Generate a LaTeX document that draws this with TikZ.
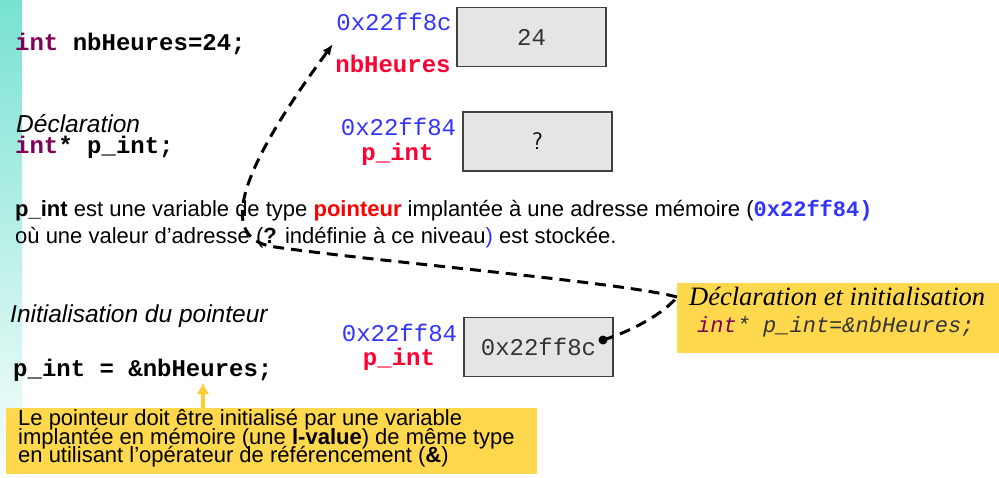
\documentclass[tikz,border=0pt]{standalone}
\usepackage{xcolor}
\usepackage{fontspec}
\setmainfont{Liberation Sans}
\setmonofont{Liberation Mono}
\newfontfamily\calfont{Liberation Serif}
\usetikzlibrary{arrows.meta}
\definecolor{kwcol}{RGB}{127,0,85}
\definecolor{addrblue}{RGB}{51,51,255}
\definecolor{namered}{RGB}{255,0,51}
\definecolor{cellfill}{RGB}{229,229,229}
\definecolor{cellline}{RGB}{64,64,64}
\definecolor{celltext}{RGB}{51,51,51}
\definecolor{noteyellow}{RGB}{255,216,77}
\definecolor{arrowyellow}{RGB}{255,204,51}
\definecolor{bartop}{RGB}{120,226,210}

\begin{document}
\begin{tikzpicture}[
      x=1pt, y=-1pt,
      every node/.style={inner sep=0pt},
      code/.style={font=\fontsize{24}{24}\selectfont\ttfamily\bfseries, anchor=base west},
      txt/.style={font=\fontsize{22}{22}\selectfont, anchor=base west},
      hint/.style={font=\fontsize{24.5}{24.5}\selectfont\itshape, anchor=base west},
      addr/.style={font=\fontsize{24}{24}\selectfont\ttfamily, text=addrblue, anchor=base},
      varname/.style={font=\fontsize{24}{24}\selectfont\ttfamily\bfseries, text=namered, anchor=base},
      cell/.style={draw=cellline, line width=1.2pt, fill=cellfill,
        minimum width=149pt, minimum height=59pt,
        font=\fontsize{24}{24}\selectfont\ttfamily, text=celltext},
      ptr/.style={line width=3pt, dash pattern=on 11pt off 7pt},
    ]
    \useasboundingbox (0,0) rectangle (999,477);
    %% Slide bar on the left.
    \shade[top color=bartop, bottom color=bartop!4] (0,0) rectangle (22,477);
    %% Code lines and comments.
    \node[code] (codenb) at (15,50) {\textcolor{kwcol}{int} nbHeures=24;};
    \node[hint] (hintdecl) at (16,132) {Déclaration};
    \node[code] (codedecl) at (15,153) {\textcolor{kwcol}{int}* p\_int;};
    \node[txt] (desc1) at (15,216) {\textbf{p\_int} est une variable de type
      \textcolor{red}{\textbf{pointeur}} implantée à une adresse mémoire
      (\textcolor{addrblue}{\ttfamily\bfseries 0x22ff84)}};
    \node[txt] (desc2) at (15,243) {où une valeur d’adresse (\textbf{?} indéfinie
      à ce niveau\textcolor{addrblue}{)} est stockée.};
    \node[hint] (hintinit) at (10,322) {Initialisation du pointeur};
    \node[code] (codeinit) at (13,376) {p\_int = \&nbHeures;};
    %% Memory cells with address and name.
    \node[cell] (cellnb) at (531.5,37) {24};
    \node[addr] (adrnb) at (394,30) {0x22ff8c};
    \node[varname] (namenb) at (393,72) {nbHeures};
    \node[cell, font=\fontsize{24}{24}\selectfont\sffamily, text=black]
      (cellp) at (537.5,141.5) {?};
    \node[addr] (adrp) at (398.5,135) {0x22ff84};
    \node[varname] (namep) at (397.5,160) {p\_int};
    \node[cell] (cellinit) at (538.5,347) {0x22ff8c};
    \node[addr] (adrinit) at (399.5,341) {0x22ff84};
    \node[varname] (nameinit) at (399,365) {p\_int};
    %% Yellow notes.
    \node[fill=noteyellow, minimum width=322pt, minimum height=70pt]
      (declbox) at (838,318) {};
    \node[anchor=base west, font=\fontsize{26.5}{26.5}\selectfont\calfont\itshape]
      (decltitle) at (689,305) {Déclaration et initialisation};
    \node[anchor=base west, font=\fontsize{22}{22}\selectfont\ttfamily\itshape,
      text=celltext] (declcode) at (697,332) {\textcolor{kwcol}{int}* p\_int=\&nbHeures;};
    \node[fill=noteyellow, minimum width=531pt, minimum height=66pt]
      (note) at (271.5,441) {};
    \node[txt] (note1) at (18,425) {Le pointeur doit être initialisé par une variable};
    \node[txt] (note2) at (18,444) {implantée en mémoire (une \textbf{l-value}) de même type};
    \node[txt] (note3) at (18,462) {en utilisant l’opérateur de référencement (\textbf{\&})};
    %% Arrow from the note up to the operand.
    \coordinate (hook) at (203,383);
    \draw[arrowyellow, line width=4pt, -{Latex[length=11pt, width=13pt]}]
      (note.north -| hook) -- (hook);
    %% Pointer: from the value in p_int to nbHeures, bending at the note.
    \coordinate (dot) at (603,340);
    \coordinate (kink) at (677,297);
    \coordinate (tip) at (333,44);
    \draw[ptr] (dot) .. controls (635,330) and (665,312) .. (kink);
    \draw[ptr, -{Latex[length=11pt, width=9pt]}]
      (kink) .. controls (620,282) and (380,262) .. (275,247)
             .. controls (225,240) and (225,190) .. (tip);
    \fill (dot) circle (4.5pt);
  \end{tikzpicture}
\end{document}
